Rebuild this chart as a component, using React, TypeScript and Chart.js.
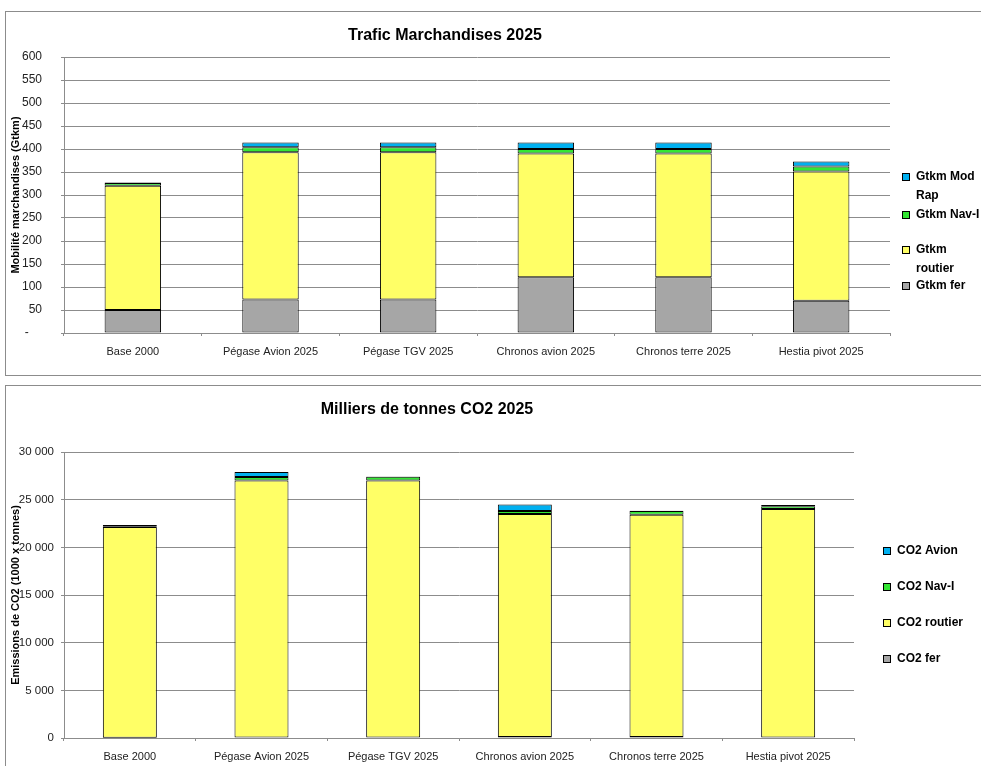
import React, { useEffect, useRef } from 'react';
import { Chart, registerables } from 'chart.js';

Chart.register(...registerables);

const FONT = '"Liberation Sans", Arial, sans-serif';

const categories = [
  'Base 2000',
  'Pégase Avion 2025',
  'Pégase TGV 2025',
  'Chronos avion 2025',
  'Chronos terre 2025',
  'Hestia pivot 2025',
];

// Trafic marchandises (Gtkm)
const gtkmFer = [50, 73, 73, 121, 121, 70];
const gtkmRoutier = [270, 320, 320, 269, 269, 281];
const gtkmNavI = [6, 11, 11, 10, 10, 11];
const gtkmModRap = [1, 10, 10, 14, 14, 11];

// Emissions CO2 (1000 x tonnes)
const co2Fer = [30, 50, 50, 100, 100, 50];
const co2Routier = [22100, 26950, 26950, 23400, 23320, 23970];
const co2NavI = [80, 380, 400, 310, 390, 280];
const co2Avion = [130, 520, 30, 690, 20, 140];

const COLORS = {
  fer: '#A6A6A6',
  routier: '#FFFF66',
  nav: '#33E633',
  air: '#00B0F0',
};

function wrapText(ctx: CanvasRenderingContext2D, text: string, maxWidth: number): string[] {
  const words = text.split(' ');
  const lines: string[] = [];
  let cur = '';
  for (const w of words) {
    const test = cur ? cur + ' ' + w : w;
    if (cur && ctx.measureText(test).width > maxWidth) {
      lines.push(cur);
      cur = w;
    } else {
      cur = test;
    }
  }
  if (cur) lines.push(cur);
  return lines;
}

const sideLegend = {
  id: 'sideLegend',
  afterDraw(chart: any, _args: any, opts: any) {
    if (!opts || !opts.ys) return;
    const { ctx } = chart;
    const ds = chart.data.datasets;
    const n = ds.length;
    ctx.save();
    ctx.font = `bold 12px ${FONT}`;
    ctx.textBaseline = 'middle';
    ctx.textAlign = 'left';
    for (let i = 0; i < n; i++) {
      const d = ds[n - 1 - i];
      const y = opts.ys[i];
      const bx = Math.round(opts.boxX) + 0.5;
      const by = Math.round(y - 4) + 0.5;
      ctx.fillStyle = d.backgroundColor;
      ctx.fillRect(bx, by, 7, 7);
      ctx.strokeStyle = '#000';
      ctx.lineWidth = 1;
      ctx.strokeRect(bx, by, 7, 7);
      ctx.fillStyle = '#000';
      const lines = wrapText(ctx, d.label, opts.maxWidth);
      lines.forEach((ln: string, k: number) => {
        ctx.fillText(ln, opts.textX, y + k * opts.lineHeight);
      });
    }
    ctx.restore();
  },
};

const formatThousands = (v: number) =>
  String(v).replace(/\B(?=(\d{3})+(?!\d))/g, ' ');

function makeDataset(label: string, data: number[], color: string) {
  return {
    label,
    data,
    backgroundColor: color,
    borderColor: '#000',
    borderWidth: 1,
    borderSkipped: false,
    categoryPercentage: 1,
    barPercentage: 0.41,
  };
}

function ChartCanvas({ config, width, height, style }: any) {
  const ref = useRef<HTMLCanvasElement | null>(null);
  useEffect(() => {
    if (!ref.current) return;
    const chart = new Chart(ref.current, config);
    return () => chart.destroy();
  }, []);
  return <canvas ref={ref} width={width} height={height} style={{ position: 'absolute', display: 'block', width, height, ...style }} />;
}

const GRID = '#8c8c8c';

export default function App() {
  const topConfig: any = {
    type: 'bar',
    data: {
      labels: categories,
      datasets: [
        makeDataset('Gtkm fer', gtkmFer, COLORS.fer),
        makeDataset('Gtkm routier', gtkmRoutier, COLORS.routier),
        makeDataset('Gtkm Nav-I', gtkmNavI, COLORS.nav),
        makeDataset('Gtkm Mod Rap', gtkmModRap, COLORS.air),
      ],
    },
    plugins: [sideLegend],
    options: {
      animation: false,
      responsive: false,
      devicePixelRatio: 1,
      layout: { padding: { left: 0, right: 107, top: 0, bottom: 0 } },
      plugins: {
        legend: { display: false },
        tooltip: { enabled: false },
        title: {
          display: true,
          text: 'Trafic Marchandises 2025',
          color: '#000',
          font: { family: FONT, size: 16, weight: 'bold' },
          padding: { top: 26.4, bottom: 11.4 },
        },
        sideLegend: { boxX: 902, textX: 916, ys: [177, 215, 250, 286], lineHeight: 18.5, maxWidth: 66 },
      },
      scales: {
        x: {
          stacked: true,
          offset: true,
          grid: { display: true, drawOnChartArea: false, tickLength: 3, color: GRID, offset: true },
          border: { color: GRID },
          ticks: { font: { family: FONT, size: 11 }, color: '#222', padding: 9, maxRotation: 0, autoSkip: false },
          afterFit: (s: any) => { s.height = 44; },
        },
        y: {
          stacked: true,
          min: 0,
          max: 600,
          ticks: {
            stepSize: 50,
            callback: (v: any) => (v === 0 ? '-    ' : String(v)),
            padding: 19,
            font: { family: FONT, size: 12 },
            color: '#222',
          },
          grid: { color: GRID, tickLength: 3 },
          border: { color: GRID },
          title: {
            display: true,
            text: 'Mobilité marchandises (Gtkm)',
            color: '#000',
            font: { family: FONT, size: 11, weight: 'bold' },
            padding: { top: 9.5, bottom: 0 },
          },
          afterFit: (s: any) => { s.width = 64; },
        },
      },
    },
  };

  const bottomConfig: any = {
    type: 'bar',
    data: {
      labels: categories,
      datasets: [
        makeDataset('CO2 fer', co2Fer, COLORS.fer),
        makeDataset('CO2 routier', co2Routier, COLORS.routier),
        makeDataset('CO2 Nav-I', co2NavI, COLORS.nav),
        makeDataset('CO2 Avion', co2Avion, COLORS.air),
      ],
    },
    plugins: [sideLegend],
    options: {
      animation: false,
      responsive: false,
      devicePixelRatio: 1,
      layout: { padding: { left: 0, right: 143, top: 0, bottom: 0 } },
      plugins: {
        legend: { display: false },
        tooltip: { enabled: false },
        title: {
          display: true,
          text: 'Milliers de tonnes CO2 2025',
          color: '#000',
          font: { family: FONT, size: 16, weight: 'bold' },
          padding: { top: 23.4, bottom: 32.4 },
        },
        sideLegend: { boxX: 883, textX: 897, ys: [174, 210, 246, 282], lineHeight: 18, maxWidth: 200 },
      },
      scales: {
        x: {
          stacked: true,
          offset: true,
          grid: { display: true, drawOnChartArea: false, tickLength: 3, color: GRID, offset: true },
          border: { color: GRID },
          ticks: { font: { family: FONT, size: 11 }, color: '#222', padding: 9.5, maxRotation: 0, autoSkip: false },
          afterFit: (s: any) => { s.height = 28; },
        },
        y: {
          stacked: true,
          min: 0,
          max: 30000,
          ticks: {
            stepSize: 5000,
            callback: (v: any) => formatThousands(Number(v)),
            padding: 7,
            font: { family: FONT, size: 11.5 },
            color: '#222',
          },
          grid: { color: GRID, tickLength: 3 },
          border: { color: GRID },
          title: {
            display: true,
            text: 'Emissions de CO2 (1000 x tonnes)',
            color: '#000',
            font: { family: FONT, size: 11, weight: 'bold' },
            padding: { top: 9.5, bottom: 0 },
          },
          afterFit: (s: any) => { s.width = 64; },
        },
      },
    },
  };

  return (
    <div style={{ position: 'absolute', left: 0, top: 0, width: 981, height: 766, overflow: 'hidden', background: '#fff' }}>
      <div style={{ position: 'absolute', left: 5, top: 11, width: 1000, height: 365, boxSizing: 'border-box', border: '1px solid #8c8c8c' }} />
      <div style={{ position: 'absolute', left: 5, top: 385, width: 1000, height: 420, boxSizing: 'border-box', border: '1px solid #8c8c8c' }} />
      <ChartCanvas config={topConfig} width={997} height={377} style={{ left: 0, top: 0 }} />
      <ChartCanvas config={bottomConfig} width={997} height={389} style={{ left: 0, top: 377 }} />
    </div>
  );
}
